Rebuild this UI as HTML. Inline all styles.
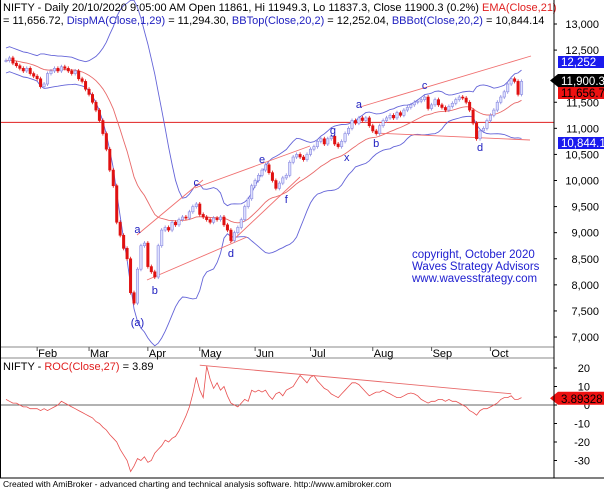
<!DOCTYPE html>
<html><head><meta charset="utf-8">
<style>
html,body{margin:0;padding:0;background:#fff;}
svg{display:block;font-family:"Liberation Sans",Arial,sans-serif;}
</style></head>
<body>
<svg id="chart" width="604" height="489" viewBox="0 0 604 489">
  <rect x="0" y="0" width="604" height="489" fill="#fff"/>
  <g id="price"></g>
  <g id="roc"></g>
  <g id="frame"></g>
</svg>
<script>
// ---- data ----
const closes = [12300,12350,12250,12200,12150,12100,12150,12050,12000,11950,
11800,11850,12050,12100,12150,12100,12180,12150,12100,12050,
12100,11950,11900,11750,11650,11500,11350,11150,10900,10600,
10200,9900,9200,8950,8700,8500,7850,7650,8300,8750,
8800,8350,8250,8150,8750,9050,9100,9050,9200,9150,
9250,9300,9280,9400,9500,9550,9350,9300,9250,9200,
9280,9250,9300,9150,9050,8850,9000,9100,9250,9500,
9650,9900,10000,10100,10200,10300,10150,10000,9850,9950,
10050,10100,10350,10450,10500,10450,10400,10500,10600,10650,
10750,10800,10700,10800,10850,10700,10650,10750,10900,11000,
11150,11100,11200,11150,11200,11050,10950,10900,11050,11150,
11200,11250,11200,11300,11250,11350,11400,11450,11500,11520,
11550,11600,11380,11450,11550,11450,11400,11350,11420,11480,
11550,11600,11580,11500,11350,11100,10800,10950,11000,11150,
11250,11350,11500,11600,11700,11850,11950,11900,11650,11900];
const rocValues = [3,2,1,1,0,-1,-1,-2,-2,-2,
-3,-2,-3,-2,-1,0,2,1,0,-1,
-2,-3,-4,-5,-6,-7,-9,-10,-12,-13.5,
-16,-18,-20,-24,-27,-30,-36,-33,-29,-30,
-28,-31,-30,-26,-24,-22,-19,-20,-18,-17,
-14,-10,-6,-1,6,15,8,4,21,14,
9,12,8,10,5,1,0,-1,1,3,
2,8,7,8,7,8,5,3,6,7,
5,8,9,10,13,16,14,12,15,16,
13,11,9,8,6,5,4,6,8,10,
12,12,11,9,7,5,6,7,7,8,
7,6,5,4,4,5,6,6.5,6,5,
3,2,1,2,2,3,3,2,3,2,
2,1,0,-1,-3,-4,-5.5,-3,-2,-2,
-1,0,1,3,4,4,5,3,3,4];
const priceTicks = [13000,12500,11500,11000,10500,10000,9500,9000,8500,8000,7500,7000];
const priceTickLabels = ["13,000","12,500","11,500","11,000","10,500","10,000","9,500","9,000","8,500","8,000","7,500","7,000"];
const rocTicks = [20,10,0,-10,-20,-30];
const months = ["Feb","Mar","Apr","May","Jun","Jul","Aug","Sep","Oct"];
const monthBars = [9,24,41,56,72,88,106,123,140];
const waveLabels = ["a","b","(a)","c","d","e","f","g","x","a","b","c","d"];
const waveBars = [38,43,38,55,65,74,81,94.5,98.5,102,107,121,137];
const wavePrices = [9070,7900,7290,9970,8610,10410,9650,10970,10450,11470,10720,11830,10640];
const hLineValue = 11115;
const lastValues = {bbTop:"12,252", close:"11,900.3", ema:"11,656.7", bbBot:"10,844.1", roc:"3.89328"};

// ---- axes ----
const NS="http://www.w3.org/2000/svg";
const X0=6, DX=3.46;
function xOf(i){return X0+i*DX;}
function yP(v){return 24+(13000-v)*0.05217;}
function yR(v){return 405-v*1.85;}
function mk(tag,attrs,parent){const e=document.createElementNS(NS,tag);for(const k in attrs)e.setAttribute(k,attrs[k]);parent.appendChild(e);return e;}
const P=document.getElementById('price'), R=document.getElementById('roc'), F=document.getElementById('frame');

// indicators
const ema=[]; const k=2/22;
closes.forEach((c,i)=>{ema.push(i===0?c:ema[i-1]+k*(c-ema[i-1]));});
const bbT=[],bbB=[];
closes.forEach((c,i)=>{const s=closes.slice(Math.max(0,i-19),i+1);const m=s.reduce((a,b)=>a+b,0)/s.length;
 const sd=Math.sqrt(s.reduce((a,b)=>a+(b-m)*(b-m),0)/s.length);const sdd=Math.max(sd,120);bbT.push(m+2*sdd);bbB.push(m-2*sdd);});

function poly(arr,fy,color,name,parent,w){
  const pts=arr.map((v,i)=>xOf(i).toFixed(1)+','+fy(v).toFixed(1)).join(' ');
  const e=mk('polyline',{points:pts,fill:'none',stroke:color,'stroke-width':w||0.9},parent);
  
  
  return e;
}
// horizontal line
const hl=mk('line',{x1:0,x2:554,y1:yP(hLineValue),y2:yP(hLineValue),stroke:'#e02020','stroke-width':1},P);



poly(bbT,yP,'#6464d8','bollinger-top',P);
poly(bbB,yP,'#6464d8','bollinger-bottom',P);
poly(ema,yP,'#e86a6a','ema-21',P);

// trendlines
const tls=[[137,235,203,180],[195,188,310,146],[360,107,531,56],[375,133,530,140],[147,280,247,237],[230,243,300,177]];
tls.forEach(t=>{const l=mk('line',{x1:t[0],y1:t[1],x2:t[2],y2:t[3],stroke:'#f07070','stroke-width':0.9},P);
 
 });

// candles
closes.forEach((c,i)=>{
  const o=i===0?c:closes[i-1]; const x=xOf(i);
  const top=yP(Math.max(o,c)), bot=yP(Math.min(o,c)); const up=c>=o;
  const wk=mk('line',{x1:x,x2:x,y1:top-2,y2:bot+2,stroke:up?'#8a8ae0':'#e01010','stroke-width':0.8},P);
  
  
  const b=mk('rect',{x:x-1.2,y:top,width:2.4,height:Math.max(1,bot-top),fill:up?'#dde0ff':'#e01010',stroke:up?'#8a8ae0':'#e01010','stroke-width':0.6},P);
  
  
});

// wave labels
waveLabels.forEach((t,i)=>{const e=mk('text',{x:xOf(waveBars[i]),y:yP(wavePrices[i])+4,'font-size':11,fill:'#2020c0','text-anchor':'middle'},P);e.textContent=t;
 
 });

// copyright
[["copyright, October 2020",258],["Waves Strategy Advisors",270],["www.wavesstrategy.com",282]].forEach(a=>{
 const e=mk('text',{x:412,y:a[1],'font-size':11.5,fill:'#2020d0'},P);e.textContent=a[0];
 
 });

// title
const t1=mk('text',{x:3,y:11,'font-size':11,fill:'#000'},P);


t1.innerHTML='NIFTY - Daily 20/10/2020 9:05:00 AM Open 11861, Hi 11949.3, Lo 11837.3, Close 11900.3 (0.2%) <tspan fill="#e02020">EMA(Close,21)</tspan>';
const t2=mk('text',{x:3,y:24,'font-size':11,fill:'#000'},P);


t2.innerHTML='= 11,656.72, <tspan fill="#2020c0">DispMA(Close,1,29)</tspan> = 11,294.30, <tspan fill="#2020c0">BBTop(Close,20,2)</tspan> = 12,252.04, <tspan fill="#2020c0">BBBot(Close,20,2)</tspan> = 10,844.14';

// price axis
priceTicks.forEach((v,i)=>{const y=yP(v);
 const tk=mk('line',{x1:554,x2:557,y1:y,y2:y,stroke:'#000','stroke-width':1},P);
 
 
 const e=mk('text',{x:599,y:y+4,'font-size':11,'text-anchor':'end',fill:'#000'},P);e.textContent=priceTickLabels[i];
 
 });
function box(y,h,fill,txt,tcol,name,arrow,parent){
 const g=mk('g',{},parent);
 
 
 if(arrow) mk('polygon',{points:`550,${y+h/2} 558,${y} 604,${y} 604,${y+h} 558,${y+h}`,fill:fill},g);
 else mk('rect',{x:558,y:y,width:46,height:h,fill:fill},g);
 const e=mk('text',{x:561,y:y+h-2,'font-size':11.5,fill:tcol},g);e.textContent=txt;
}
box(56,12,'#1a1aee',lastValues.bbTop,'#fff','bbtop-value-box',false,P);
box(74,13,'#000',lastValues.close,'#fff','close-value-box',true,P);
box(87,12,'#ee1111',lastValues.ema,'#000','ema-value-box',false,P);
box(137,12,'#1a1aee',lastValues.bbBot,'#fff','bbbot-value-box',false,P);

// date strip
mk('line',{x1:0,x2:554,y1:347,y2:347,stroke:'#888','stroke-width':1},F);
mk('line',{x1:0,x2:554,y1:358,y2:358,stroke:'#888','stroke-width':1},F);
months.forEach((m,i)=>{const x=xOf(monthBars[i]);
 mk('line',{x1:x,x2:x,y1:347,y2:351,stroke:'#555'},F);
 const e=mk('text',{x:x+1,y:357,'font-size':11,fill:'#000'},F);e.textContent=m;
 
 });

// ROC panel
mk('line',{x1:0,x2:554,y1:yR(0),y2:yR(0),stroke:'#666','stroke-width':1},R);
rocTicks.forEach(v=>{const y=yR(v);
 mk('line',{x1:554,x2:557,y1:y,y2:y,stroke:'#000'},R);
 const e=mk('text',{x:590,y:y+4,'font-size':11,'text-anchor':'end',fill:'#000'},R);e.textContent=String(v);
 
 });
poly(rocValues,yR,'#e85050','roc-line',R,0.8);
const rtl=mk('line',{x1:xOf(56),y1:yR(21)-1,x2:xOf(146),y2:yR(5)-2,stroke:'#e86a6a','stroke-width':0.9},R);


const rt=mk('text',{x:3,y:370,'font-size':11,fill:'#000'},R);


rt.innerHTML='NIFTY - <tspan fill="#e02020">ROC(Close,27)</tspan> = 3.89';
box(yR(3.89)-6,13,'#ee1111',lastValues.roc,'#000','roc-value-box',true,R);

// frame
mk('line',{x1:554,x2:554,y1:0,y2:478,stroke:'#000','stroke-width':1},F);
mk('line',{x1:0.5,x2:0.5,y1:0,y2:478,stroke:'#000','stroke-width':1},F);
mk('line',{x1:0,x2:604,y1:478,y2:478,stroke:'#000','stroke-width':1},F);
const ft=mk('text',{x:3,y:487,'font-size':8.5,fill:'#000'},F);


ft.textContent='Created with AmiBroker - advanced charting and technical analysis software. http://www.amibroker.com';
</script>
</body></html>
